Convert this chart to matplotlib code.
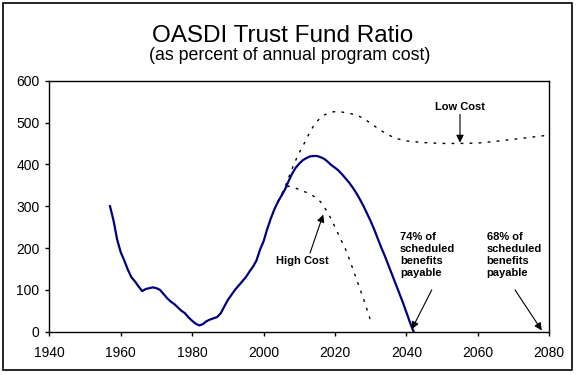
import matplotlib.pyplot as plt
from matplotlib.patches import Rectangle

plt.rcParams['font.family'] = ['Liberation Sans', 'DejaVu Sans']

# intermediate (historical + projected)
years_mid = list(range(1957, 2043))
ratio_mid = [300, 265, 220, 190, 170, 148, 130, 120, 108, 97,
             102, 104, 106, 104, 100, 90, 80, 72, 66, 58,
             50, 44, 34, 26, 19, 15, 18, 25, 29, 32,
             35, 44, 60, 76, 88, 100, 110, 120, 130, 143,
             155, 170, 196, 216, 245, 270, 292, 310, 325, 340,
             360, 378, 392, 402, 410, 415, 419, 420, 420, 417,
             413, 406, 398, 392, 385, 376, 366, 356, 344, 331,
             316, 300, 282, 264, 244, 222, 200, 180, 158, 136,
             114, 92, 70, 46, 22, 0]

years_low = [2004, 2005, 2006, 2007, 2008, 2009, 2010, 2011, 2012, 2013,
             2014, 2015, 2016, 2017, 2018, 2019, 2020, 2021, 2022, 2024,
             2026, 2028, 2030, 2032, 2034, 2036, 2038, 2040, 2045, 2050,
             2055, 2060, 2065, 2070, 2075, 2080]
ratio_low = [310, 326, 346, 368, 390, 410, 428, 444, 460, 478,
             492, 503, 512, 518, 522, 525, 526, 526, 525, 522,
             518, 510, 498, 486, 475, 466, 460, 456, 452, 450,
             450, 451, 455, 460, 465, 470]

years_high = [2004, 2005, 2006, 2007, 2008, 2009, 2010, 2011, 2012, 2013,
              2014, 2015, 2016, 2017, 2018, 2019, 2020, 2021, 2022, 2023,
              2024, 2025, 2026, 2027, 2028, 2029, 2030]
ratio_high = [310, 328, 342, 348, 346, 343, 340, 336, 333, 329,
              324, 318, 310, 298, 284, 268, 250, 232, 214, 196,
              174, 150, 126, 102, 78, 52, 25]

fig = plt.figure(figsize=(5.76, 3.75), dpi=100)
ax = fig.add_axes([0.0856, 0.1155, 0.868, 0.6693])

dots = (0, (2, 4.5))
ax.plot(years_low, ratio_low, color='black', lw=1, linestyle=dots)
ax.plot(years_high, ratio_high, color='black', lw=1, linestyle=dots)
ax.plot(years_mid, ratio_mid, color='#000080', lw=1.6)

ax.set_xlim(1940, 2080)
ax.set_ylim(0, 600)
ax.set_xticks(range(1940, 2081, 20))
ax.set_yticks(range(0, 601, 100))
ax.tick_params(direction='out', length=3, width=1, labelsize=10, colors='black')
ax.tick_params(axis='x', pad=7)
ax.tick_params(axis='y', pad=4)
for s in ax.spines.values():
    s.set_linewidth(1)

arrow = dict(arrowstyle='-|>', color='black', lw=0.8, mutation_scale=11,
             shrinkA=0, shrinkB=0)
note = dict(fontsize=8, fontweight='bold')

ax.annotate('Low Cost', xy=(2055, 452), xytext=(2055, 526),
            ha='center', va='bottom', arrowprops=arrow, **note)
ax.text(2010.9, 168, 'High Cost', ha='center', va='center', **note)
ax.annotate('', xy=(2016.7, 280), xytext=(2013, 188), arrowprops=arrow)
ax.text(2038.2, 238, '74% of\nscheduled\nbenefits\npayable',
        ha='left', va='top', linespacing=1.25, **note)
ax.annotate('', xy=(2041.5, 6), xytext=(2047.1, 100), arrowprops=arrow)
ax.text(2062.5, 238, '68% of\nscheduled\nbenefits\npayable',
        ha='left', va='top', linespacing=1.25, **note)
ax.annotate('', xy=(2077.9, 3), xytext=(2070.4, 100), arrowprops=arrow)

fig.text(0.491, 0.888, 'OASDI Trust Fund Ratio', ha='center', va='baseline',
         fontsize=17.5)
fig.text(0.503, 0.840, '(as percent of annual program cost)', ha='center',
         va='baseline', fontsize=12.8)

fig.patches.append(Rectangle((3 / 576, 5 / 375), 569 / 576, 367 / 375,
                             transform=fig.transFigure, fill=False,
                             edgecolor='black', lw=1.2))

fig.savefig('out.png', dpi=100)
